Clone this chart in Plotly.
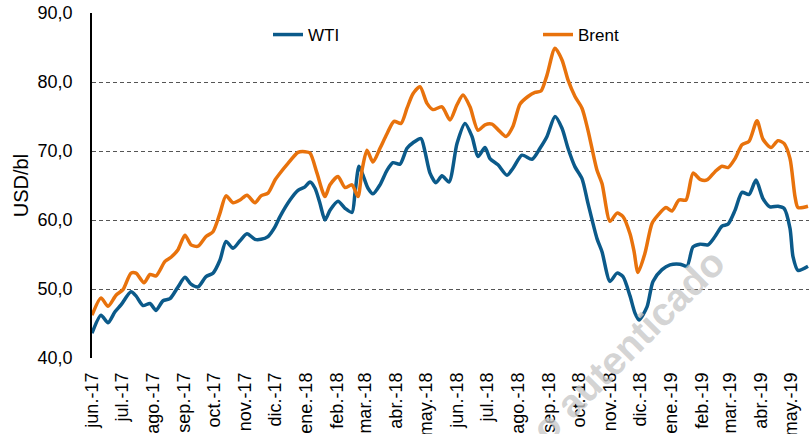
import plotly.graph_objects as go

# ---- data ----
wti_dates = [
    "2017-06-01", "2017-06-10", "2017-06-17", "2017-06-24", "2017-06-30", "2017-07-10", "2017-07-15",
    "2017-07-22", "2017-07-29", "2017-08-04", "2017-08-11", "2017-08-18", "2017-08-26", "2017-09-02",
    "2017-09-08", "2017-09-15", "2017-09-23", "2017-09-30", "2017-10-07", "2017-10-13", "2017-10-20",
    "2017-10-27", "2017-11-03", "2017-11-11", "2017-11-17", "2017-11-24", "2017-12-01", "2017-12-06",
    "2017-12-16", "2017-12-24", "2017-12-31", "2018-01-05", "2018-01-10", "2018-01-15", "2018-01-20",
    "2018-01-25", "2018-02-02", "2018-02-09", "2018-02-16", "2018-02-19", "2018-02-23", "2018-02-27",
    "2018-03-04", "2018-03-09", "2018-03-16", "2018-03-23", "2018-03-29", "2018-04-05", "2018-04-12",
    "2018-04-18", "2018-04-26", "2018-04-30", "2018-05-05", "2018-05-11", "2018-05-17", "2018-05-24",
    "2018-06-01", "2018-06-09", "2018-06-16", "2018-06-22", "2018-06-29", "2018-07-04", "2018-07-12",
    "2018-07-21", "2018-07-27", "2018-08-05", "2018-08-15", "2018-08-23", "2018-08-30", "2018-09-07",
    "2018-09-14", "2018-09-20", "2018-09-27", "2018-10-04", "2018-10-10", "2018-10-19", "2018-10-24",
    "2018-11-01", "2018-11-08", "2018-11-14", "2018-11-21", "2018-11-26", "2018-11-30", "2018-12-08",
    "2018-12-14", "2018-12-23", "2018-12-31", "2019-01-10", "2019-01-17", "2019-01-23", "2019-01-30",
    "2019-02-07", "2019-02-14", "2019-02-21", "2019-02-27", "2019-03-06", "2019-03-13", "2019-03-20",
    "2019-03-27", "2019-04-03", "2019-04-10", "2019-04-18", "2019-04-24", "2019-04-30", "2019-05-03",
    "2019-05-08", "2019-05-18",
]
wti_values = [
    43.6, 46.2, 45.1, 46.7, 47.7, 49.6, 49.0,
    47.6, 47.9, 46.9, 48.3, 48.6, 50.3, 51.7,
    50.7, 50.3, 51.8, 52.3, 54.2, 56.9, 55.9,
    57.0, 58.0, 57.2, 57.2, 57.6, 59.0, 60.5,
    62.9, 64.3, 64.8, 65.5, 64.6, 62.4, 60.0,
    61.4, 62.7, 61.7, 61.1, 63.9, 67.8, 66.5,
    64.6, 63.8, 65.1, 67.2, 68.3, 68.1, 70.4,
    71.2, 71.8, 69.9, 66.8, 65.4, 66.4, 65.5,
    71.1, 74.0, 72.1, 69.2, 70.5, 68.9, 68.0,
    66.5, 67.5, 69.4, 68.8, 70.4, 72.1, 75.0,
    73.3, 70.4, 67.7, 66.0, 62.4, 57.3, 55.4,
    51.1, 52.3, 51.8, 49.0, 46.5, 45.5, 47.4,
    51.1, 52.8, 53.5, 53.6, 53.3, 56.1, 56.5,
    56.4, 57.6, 59.1, 59.4, 61.4, 64.0, 63.7,
    65.8, 63.1, 61.9, 62.0, 61.7, 58.8, 54.7,
    52.7, 53.3,
]

brent_dates = [
    "2017-06-01", "2017-06-10", "2017-06-17", "2017-06-25", "2017-07-02", "2017-07-10", "2017-07-15",
    "2017-07-23", "2017-07-29", "2017-08-04", "2017-08-13", "2017-08-19", "2017-08-26", "2017-09-02",
    "2017-09-08", "2017-09-15", "2017-09-23", "2017-09-30", "2017-10-07", "2017-10-13", "2017-10-20",
    "2017-10-27", "2017-11-03", "2017-11-11", "2017-11-17", "2017-11-24", "2017-12-01", "2017-12-05",
    "2017-12-14", "2017-12-24", "2017-12-31", "2018-01-05", "2018-01-12", "2018-01-20", "2018-01-25",
    "2018-02-02", "2018-02-09", "2018-02-16", "2018-02-22", "2018-02-26", "2018-03-03", "2018-03-09",
    "2018-03-16", "2018-03-23", "2018-03-30", "2018-04-06", "2018-04-12", "2018-04-18", "2018-04-25",
    "2018-05-02", "2018-05-08", "2018-05-17", "2018-05-25", "2018-06-01", "2018-06-07", "2018-06-14",
    "2018-06-22", "2018-06-29", "2018-07-06", "2018-07-12", "2018-07-20", "2018-07-27", "2018-08-03",
    "2018-08-11", "2018-08-18", "2018-08-24", "2018-08-30", "2018-09-07", "2018-09-14", "2018-09-20",
    "2018-09-27", "2018-10-04", "2018-10-10", "2018-10-19", "2018-10-24", "2018-11-01", "2018-11-08",
    "2018-11-14", "2018-11-21", "2018-11-25", "2018-11-29", "2018-12-06", "2018-12-13", "2018-12-19",
    "2018-12-27", "2019-01-02", "2019-01-09", "2019-01-16", "2019-01-23", "2019-01-30", "2019-02-06",
    "2019-02-14", "2019-02-21", "2019-02-27", "2019-03-06", "2019-03-13", "2019-03-20", "2019-03-28",
    "2019-04-03", "2019-04-11", "2019-04-18", "2019-04-24", "2019-04-30", "2019-05-05", "2019-05-08",
    "2019-05-18",
]
brent_values = [
    46.2, 48.7, 47.5, 49.1, 49.9, 52.3, 52.3,
    50.9, 52.1, 51.9, 54.0, 54.6, 55.7, 57.8,
    56.4, 56.2, 57.6, 58.3, 61.0, 63.5, 62.5,
    62.9, 63.6, 62.5, 63.5, 63.9, 65.8, 66.6,
    68.2, 69.8, 69.9, 69.7, 66.8, 63.4, 65.1,
    66.3, 64.7, 65.1, 63.4, 67.2, 70.1, 68.4,
    70.4, 72.5, 74.3, 74.0, 76.2, 78.3, 79.3,
    76.9, 76.0, 76.4, 74.5, 76.7, 78.1, 76.4,
    73.0, 73.8, 73.9, 73.1, 72.1, 73.6, 76.8,
    77.9, 78.5, 78.7, 81.0, 84.9, 83.2, 80.3,
    77.9, 76.2, 73.0, 67.2, 65.3, 59.8, 61.0,
    60.5, 58.0, 55.5, 52.4, 55.2, 59.5, 60.7,
    61.8, 61.3, 62.9, 62.9, 66.8, 65.9, 65.8,
    67.0, 67.8, 67.6, 68.9, 70.9, 71.4, 74.4,
    71.7, 70.5, 71.5, 71.1, 68.9, 63.4, 61.8,
    62.0,
]

tick_dates = [
    "2017-06-01", "2017-07-01", "2017-08-01", "2017-09-01", "2017-10-01", "2017-11-01",
    "2017-12-01", "2018-01-01", "2018-02-01", "2018-03-01", "2018-04-01", "2018-05-01",
    "2018-06-01", "2018-07-01", "2018-08-01", "2018-09-01", "2018-10-01", "2018-11-01",
    "2018-12-01", "2019-01-01", "2019-02-01", "2019-03-01", "2019-04-01", "2019-05-01",
]
tick_labels = [
    "jun.-17", "jul.-17", "ago.-17", "sep.-17", "oct.-17", "nov.-17",
    "dic.-17", "ene.-18", "feb.-18", "mar.-18", "abr.-18", "may.-18",
    "jun.-18", "jul.-18", "ago.-18", "sep.-18", "oct.-18", "nov.-18",
    "dic.-18", "ene.-19", "feb.-19", "mar.-19", "abr.-19", "may.-19",
]

WTI_COLOR = "#0B5A8A"
BRENT_COLOR = "#E8720C"
FONT = "Liberation Sans, Arial, sans-serif"

fig = go.Figure()
fig.add_trace(go.Scatter(
    x=wti_dates, y=wti_values, name="WTI", mode="lines",
    line=dict(color=WTI_COLOR, width=3.5, shape="spline", smoothing=0.7),
))
fig.add_trace(go.Scatter(
    x=brent_dates, y=brent_values, name="Brent", mode="lines",
    line=dict(color=BRENT_COLOR, width=3.5, shape="spline", smoothing=0.7),
))

# watermark
fig.add_annotation(
    text="<b>o autenticado</b>", xref="paper", yref="paper",
    x=(628 - 92) / 717, y=(358 - 345) / 345, showarrow=False,
    xanchor="center", yanchor="middle",
    textangle=-45, font=dict(family=FONT, size=39, color="rgba(200,200,200,0.8)"),
)

fig.update_layout(
    width=809, height=434,
    margin=dict(l=92, r=0, t=13, b=76),
    paper_bgcolor="white", plot_bgcolor="white",
    font=dict(family=FONT, size=18, color="#000000"),
    separators=",.",
    showlegend=True,
    legend=dict(
        orientation="h", x=(268 - 92) / 717, y=(358 - 35) / 345,
        xanchor="left", yanchor="middle",
        bgcolor="rgba(0,0,0,0)", font=dict(size=17),
        entrywidth=225, entrywidthmode="pixels", itemwidth=30,
    ),
    xaxis=dict(
        type="date", range=["2017-06-01", "2019-05-19"],
        tickmode="array", tickvals=tick_dates, ticktext=tick_labels,
        tickangle=-90, tickfont=dict(size=18), ticks="",
        showgrid=False, showline=False, zeroline=False,
        ticklabelstandoff=10, automargin=False,
    ),
    yaxis=dict(
        range=[40, 90], dtick=10, tickformat=".1f",
        showgrid=True, gridcolor="#555555", griddash="4px,3px", gridwidth=1,
        showline=True, linecolor="#000000", linewidth=1.5,
        ticks="", zeroline=False, ticklabelstandoff=14, automargin=False,
        ticklabeloverflow="allow",
        tickfont=dict(size=18),
        title=dict(text="USD/bl", font=dict(size=20), standoff=4),
    ),
)

fig.write_html(
    "out.html",
    config={"displayModeBar": False},
    post_script="document.body.style.margin='0';",
)
